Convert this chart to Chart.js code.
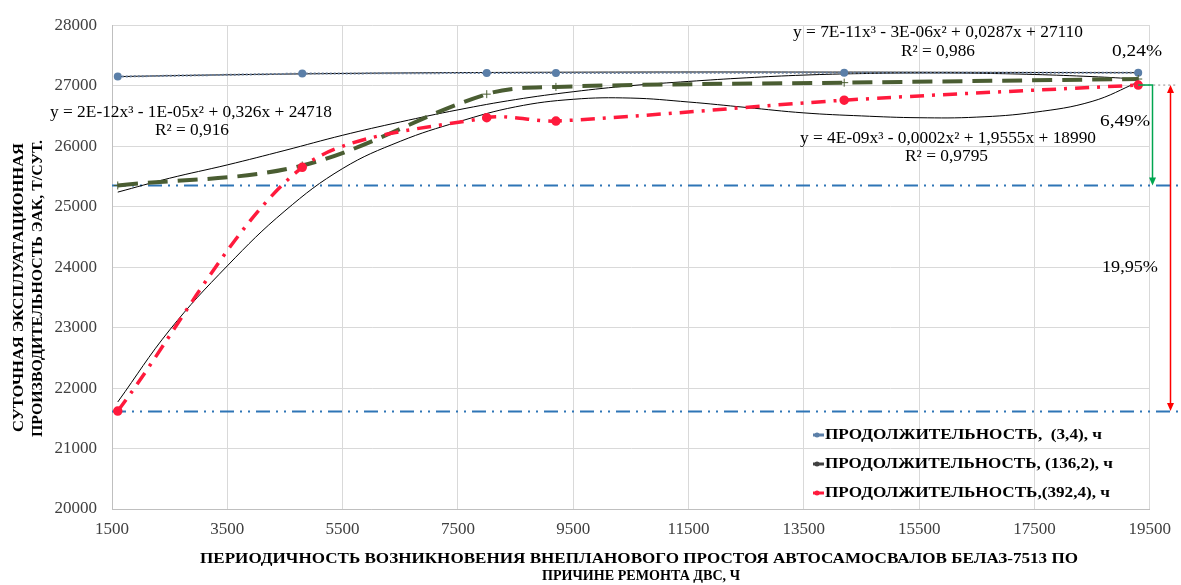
<!DOCTYPE html>
<html>
<head>
<meta charset="utf-8">
<script src="https://cdn.jsdelivr.net/npm/chart.js@4.4.1/dist/chart.umd.min.js"></script>
<style>
html,body{margin:0;padding:0;background:#fff;}
#wrap{width:1181px;height:585px;position:relative;}
</style>
</head>
<body>
<div id="wrap"><canvas id="c" width="1181" height="585"></canvas></div>
<script>
// ---- data ----
const xVals   = [1600, 4800, 8000, 9200, 14200, 19300];
const seriesA = [27150, 27200, 27210, 27210, 27215, 27215];   // (3,4)
const seriesB = [25350, 25680, 26860, 26980, 27050, 27110];   // (136,2)
const seriesC = [21620, 25650, 26470, 26415, 26760, 27010];   // (392,4)

const trendX  = [1600, 2500, 3500, 4500, 5500, 6500, 7500, 8500, 9500, 10500, 11500, 12500, 13500, 14500, 15500, 16500, 17500, 18500, 19300];
const trendA  = [27150, 27165, 27180, 27192, 27202, 27210, 27216, 27220, 27223, 27225, 27226, 27226, 27225, 27224, 27222, 27220, 27218, 27216, 27215];
const trendB  = [25240, 25470, 25690, 25930, 26180, 26400, 26600, 26770, 26900, 27000, 27070, 27130, 27175, 27200, 27210, 27205, 27185, 27150, 27110];
const trendC  = [21770, 22960, 24020, 24930, 25630, 26080, 26400, 26650, 26775, 26795, 26730, 26640, 26550, 26500, 26470, 26480, 26560, 26740, 27060];

const xTickVals = [1500, 3500, 5500, 7500, 9500, 11500, 13500, 15500, 17500, 19500];
const yTickVals = [20000, 21000, 22000, 23000, 24000, 25000, 26000, 27000, 28000];
const refLevels = [25350, 21620];
const arrowTop  = 27010;

const seriesNames = ['ПРОДОЛЖИТЕЛЬНОСТЬ,  (3,4), ч', 'ПРОДОЛЖИТЕЛЬНОСТЬ, (136,2), ч', 'ПРОДОЛЖИТЕЛЬНОСТЬ,(392,4), ч'];
const equations = [
  'y = 7E-11x³ - 3E-06x² + 0,0287x + 27110',
  'y = 2E-12x³ - 1E-05x² + 0,326x + 24718',
  'y = 4E-09x³ - 0,0002x² + 1,9555x + 18990'
];
const rSquared = ['R² = 0,986', 'R² = 0,916', 'R² = 0,9795'];
const percents = ['0,24%', '6,49%', '19,95%'];
const xTitle = ['ПЕРИОДИЧНОСТЬ ВОЗНИКНОВЕНИЯ ВНЕПЛАНОВОГО ПРОСТОЯ АВТОСАМОСВАЛОВ БЕЛАЗ-7513 ПО', 'ПРИЧИНЕ РЕМОНТА ДВС, Ч'];
const yTitle = ['СУТОЧНАЯ ЭКСПЛУАТАЦИОННАЯ', 'ПРОИЗВОДИТЕЛЬНОСТЬ ЭАК, Т/СУТ.'];

// ---- helpers ----
const pts = (xs, ys) => xs.map((x, i) => ({x: x, y: ys[i]}));
const SERIF = '"Liberation Serif", "DejaVu Serif", serif';
const colA = '#5b7fa8', colB = '#4a5d32', colC = '#ff1a3c';

function fitText(ctx, str, x1, x2, yc, font, color) {
  ctx.save();
  ctx.font = font;
  ctx.fillStyle = color || '#000';
  ctx.textBaseline = 'middle';
  ctx.textAlign = 'left';
  const w = ctx.measureText(str).width;
  ctx.translate(x1, yc);
  ctx.scale((x2 - x1) / w, 1);
  ctx.fillText(str, 0, 0);
  ctx.restore();
}
function fitTextV(ctx, str, xc, yBottom, yTop, font) {
  ctx.save();
  ctx.font = font;
  ctx.fillStyle = '#000';
  ctx.textBaseline = 'middle';
  ctx.textAlign = 'left';
  const w = ctx.measureText(str).width;
  ctx.translate(xc, yBottom);
  ctx.rotate(-Math.PI / 2);
  ctx.scale((yBottom - yTop) / w, 1);
  ctx.fillText(str, 0, 0);
  ctx.restore();
}
function arrowHead(ctx, x, y, dir, color) {
  ctx.save();
  ctx.fillStyle = color;
  ctx.beginPath();
  ctx.moveTo(x, y);
  ctx.lineTo(x - 3.5, y - 8 * dir);
  ctx.lineTo(x + 3.5, y - 8 * dir);
  ctx.closePath();
  ctx.fill();
  ctx.restore();
}

const deco = {
  id: 'deco',
  beforeDatasetsDraw(chart) {
    const ctx = chart.ctx, ys = chart.scales.y, ca = chart.chartArea;
    ctx.save();
    ctx.strokeStyle = '#2e75b6';
    ctx.lineWidth = 2;
    ctx.setLineDash([14, 6, 2, 6, 2, 6]);
    refLevels.forEach(v => {
      const y = Math.round(ys.getPixelForValue(v)) + 0.5;
      ctx.beginPath();
      ctx.moveTo(ca.left, y);
      ctx.lineTo(chart.width - 1, y);
      ctx.stroke();
    });
    ctx.restore();
  },
  afterDatasetsDraw(chart) {
    const ctx = chart.ctx, ys = chart.scales.y, xs = chart.scales.x;
    const yTop = ys.getPixelForValue(arrowTop);
    const yG = ys.getPixelForValue(refLevels[0]);
    const yR = ys.getPixelForValue(refLevels[1]);
    const xEnd = xs.getPixelForValue(xVals[xVals.length - 1]);
    ctx.save();
    ctx.strokeStyle = '#8a8a8a';
    ctx.lineWidth = 1;
    ctx.setLineDash([2, 3]);
    ctx.beginPath(); ctx.moveTo(xEnd, yTop); ctx.lineTo(1176, yTop); ctx.stroke();
    ctx.setLineDash([]);
    const gx = 1152.5;
    ctx.strokeStyle = '#00a650';
    ctx.lineWidth = 1.5;
    ctx.beginPath(); ctx.moveTo(xEnd, yTop); ctx.lineTo(gx, yTop); ctx.lineTo(gx, yG - 6); ctx.stroke();
    arrowHead(ctx, gx, yG, 1, '#00a650');
    const rx = 1170.5;
    ctx.strokeStyle = '#ff0000';
    ctx.beginPath(); ctx.moveTo(rx, yTop + 6); ctx.lineTo(rx, yR - 6); ctx.stroke();
    arrowHead(ctx, rx, yTop, -1, '#ff0000');
    arrowHead(ctx, rx, yR, 1, '#ff0000');
    ctx.restore();

    const f = '16px ' + SERIF;
    fitText(ctx, equations[0], 793, 1083, 33, f);
    fitText(ctx, rSquared[0], 901, 975, 52, f);
    fitText(ctx, percents[0], 1112, 1162, 52, f);
    fitText(ctx, equations[1], 50, 332, 113, f);
    fitText(ctx, rSquared[1], 155, 229, 131, f);
    fitText(ctx, equations[2], 800, 1096, 139, f);
    fitText(ctx, rSquared[2], 905, 988, 157, f);
    fitText(ctx, percents[1], 1100, 1150, 122, f);
    fitText(ctx, percents[2], 1102, 1158, 268, f);

    const lf = 'bold 15px ' + SERIF;
    const legY = [435, 464, 493];
    const legEnd = [1102, 1113, 1110];
    const legCol = [colA, '#404040', colC];
    for (let i = 0; i < 3; i++) {
      ctx.save();
      ctx.strokeStyle = legCol[i];
      ctx.fillStyle = legCol[i];
      ctx.lineWidth = 3;
      ctx.beginPath(); ctx.moveTo(813, legY[i]); ctx.lineTo(824, legY[i]); ctx.stroke();
      ctx.beginPath(); ctx.arc(817, legY[i], 2.5, 0, Math.PI * 2); ctx.fill();
      ctx.restore();
      fitText(ctx, seriesNames[i], 825, legEnd[i], legY[i], lf);
    }
  },
  afterDraw(chart) {
    const ctx = chart.ctx;
    const tf = 'bold 15px ' + SERIF;
    fitText(ctx, xTitle[0], 200, 1078, 559, tf);
    fitText(ctx, xTitle[1], 542, 740, 576, tf);
    fitTextV(ctx, yTitle[0], 19, 432, 143, tf);
    fitTextV(ctx, yTitle[1], 38, 437, 140, tf);
  }
};

new Chart(document.getElementById('c'), {
  type: 'line',
  data: {
    datasets: [
      { label: seriesNames[0], data: pts(xVals, seriesA), borderColor: '#6a7f9c', borderWidth: 2, borderDash: [2, 2],
        pointRadius: 3, pointBackgroundColor: colA, pointBorderColor: colA, tension: 0, order: 3 },
      { label: seriesNames[1], data: pts(xVals, seriesB), borderColor: colB, borderWidth: 4, borderDash: [20, 10],
        pointStyle: 'cross', pointRadius: 4, pointBorderColor: colB, pointBorderWidth: 1, tension: 0.35, order: 2 },
      { label: seriesNames[2], data: pts(xVals, seriesC), borderColor: colC, borderWidth: 3.5, borderDash: [14, 8, 3, 8],
        pointStyle: 'circle', pointRadius: 3, pointBackgroundColor: colC, pointBorderColor: colC, tension: 0.3, order: 1 },
      { label: 'trendA', data: pts(trendX, trendA), borderColor: '#000', borderWidth: 1, pointRadius: 0, tension: 0.4, order: 4 },
      { label: 'trendB', data: pts(trendX, trendB), borderColor: '#000', borderWidth: 1, pointRadius: 0, tension: 0.4, order: 4 },
      { label: 'trendC', data: pts(trendX, trendC), borderColor: '#000', borderWidth: 1, pointRadius: 0, tension: 0.4, order: 4 }
    ]
  },
  options: {
    responsive: false,
    animation: false,
    devicePixelRatio: 1,
    layout: { padding: { top: 25, right: 25, left: 0, bottom: 0 } },
    plugins: { legend: { display: false }, tooltip: { enabled: false } },
    scales: {
      x: {
        type: 'linear', min: xTickVals[0], max: xTickVals[xTickVals.length - 1],
        afterBuildTicks: s => { s.ticks = xTickVals.map(v => ({value: v})); },
        afterFit: s => { s.height = 76; },
        grid: { color: '#d9d9d9', drawTicks: false },
        border: { color: '#bfbfbf' },
        ticks: { padding: 10, color: '#404040', font: { family: SERIF, size: 17 }, callback: v => String(v), maxRotation: 0 }
      },
      y: {
        min: yTickVals[0], max: yTickVals[yTickVals.length - 1],
        afterBuildTicks: s => { s.ticks = yTickVals.map(v => ({value: v})); },
        afterFit: s => { s.width = 112; },
        grid: { color: '#d9d9d9', drawTicks: false },
        border: { color: '#bfbfbf' },
        ticks: { padding: 15, color: '#404040', font: { family: SERIF, size: 17 }, callback: v => String(v) }
      }
    }
  },
  plugins: [deco]
});
</script>
</body>
</html>
